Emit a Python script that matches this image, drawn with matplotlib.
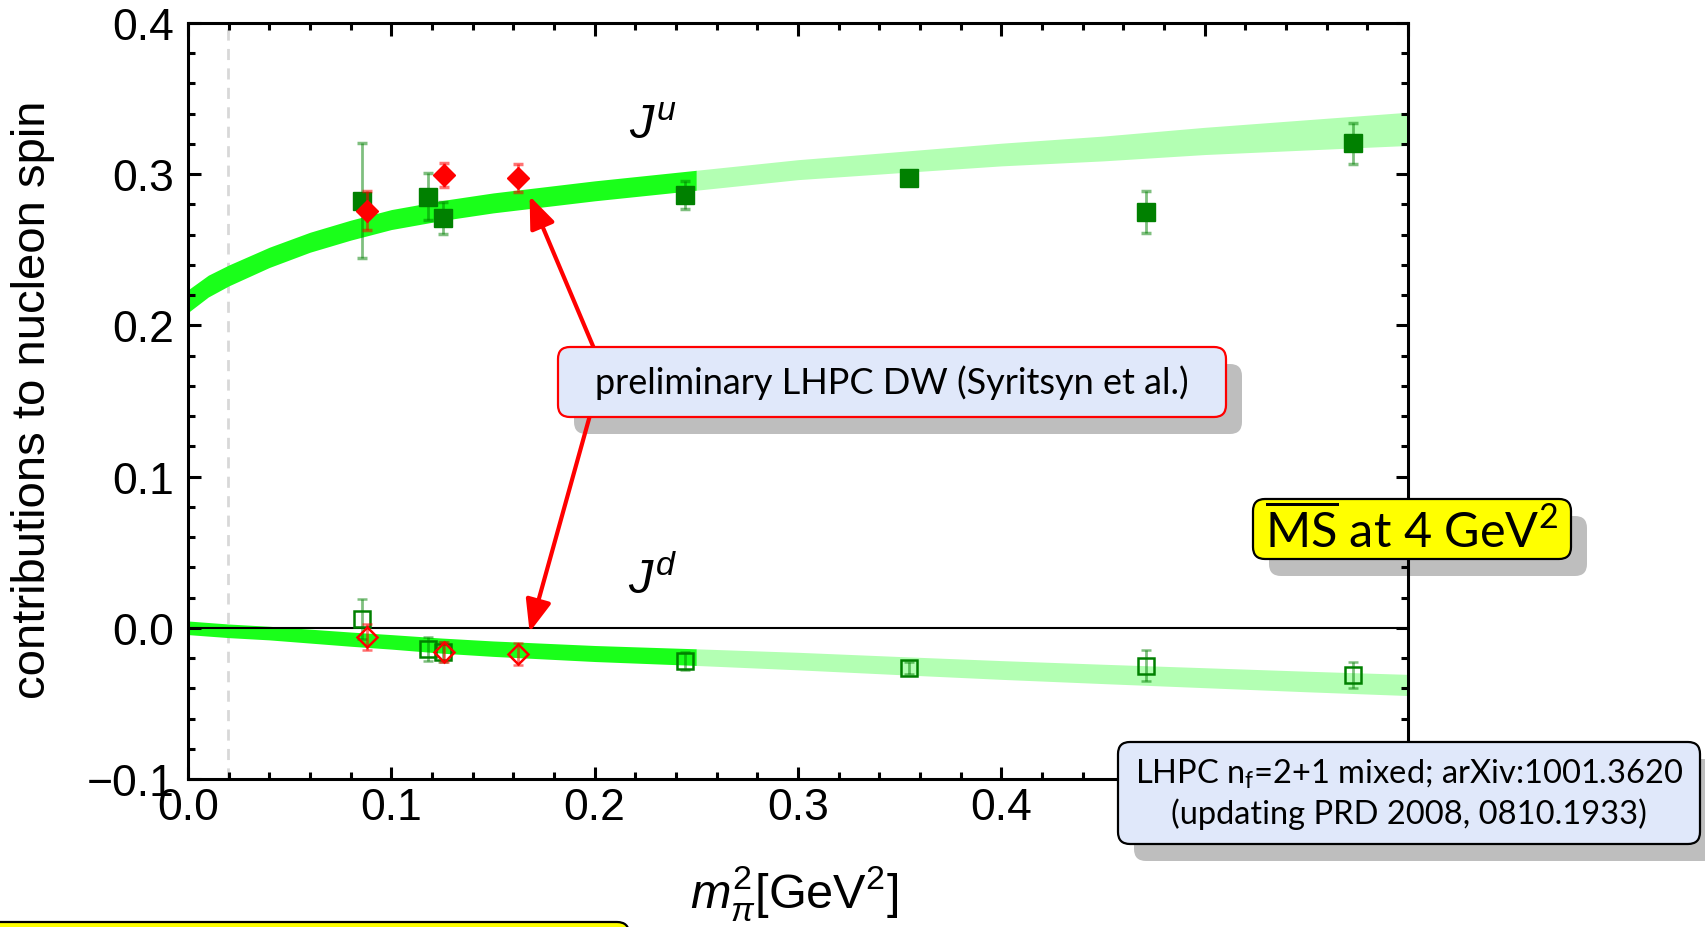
import matplotlib.pyplot as plt
import numpy as np
from matplotlib.patches import FancyBboxPatch
from matplotlib.ticker import MultipleLocator, FuncFormatter

plt.rcParams['font.family'] = ['Liberation Sans', 'DejaVu Sans']
plt.rcParams['mathtext.fontset'] = 'custom'
plt.rcParams['mathtext.rm'] = 'Liberation Sans'
plt.rcParams['mathtext.it'] = 'Liberation Sans:italic'
plt.rcParams['mathtext.sf'] = 'Lato'

# chiral fit bands: central value and half width vs m_pi^2
band_x  = [0.0, 0.01, 0.02, 0.04, 0.06, 0.08, 0.10, 0.125, 0.15, 0.20, 0.25,
           0.30, 0.35, 0.40, 0.45, 0.50, 0.55, 0.60]
ju_mid  = [0.216, 0.226, 0.233, 0.245, 0.255, 0.263, 0.270, 0.276, 0.281, 0.289, 0.296,
           0.303, 0.308, 0.313, 0.317, 0.322, 0.326, 0.330]
ju_half = [0.0075, 0.0072, 0.0069, 0.0067, 0.0066, 0.0066, 0.0066, 0.0066, 0.0066, 0.0066, 0.0066,
           0.0066, 0.0070, 0.0075, 0.0082, 0.0090, 0.0100, 0.0110]
jd_mid  = [0.000, -0.001, -0.002, -0.0035, -0.0055, -0.0075, -0.0093, -0.0118, -0.0138, -0.0170, -0.0194,
           -0.0220, -0.0250, -0.0279, -0.0305, -0.0330, -0.0355, -0.0378]
jd_half = [0.0045, 0.0045, 0.0045, 0.0045, 0.0046, 0.0047, 0.0048, 0.0050, 0.0051, 0.0053, 0.0055,
           0.0058, 0.0060, 0.0062, 0.0064, 0.0066, 0.0068, 0.0070]
fit_end = 0.25        # band is drawn lighter beyond the fit range
m_pi_phys = 0.0195    # physical pion mass squared

# LHPC n_f=2+1 mixed action (filled squares J^u, open squares J^d)
mixed_x      = [0.0854, 0.1182, 0.1256, 0.2445, 0.3545, 0.471, 0.573]
ju_mixed     = [0.2825, 0.2851, 0.2710, 0.2862, 0.2975, 0.2750, 0.3204]
ju_mixed_err = [0.038, 0.0155, 0.0105, 0.009, 0.004, 0.014, 0.0135]
jd_mixed     = [0.0058, -0.0140, -0.0162, -0.0217, -0.0266, -0.0250, -0.0312]
jd_mixed_err = [0.013, 0.008, 0.0066, 0.006, 0.004, 0.010, 0.0085]

# preliminary domain wall points (red)
dw_x      = [0.0879, 0.1261, 0.1625]
ju_dw     = [0.2759, 0.2995, 0.2975]
ju_dw_err = [0.0128, 0.008, 0.009]
jd_dw     = [-0.0063, -0.0158, -0.0173]
jd_dw_err = [0.0085, 0.0065, 0.007]

W, H = 1706, 928
fig = plt.figure(figsize=(W / 100, H / 100), dpi=100)
ax = fig.add_axes([188 / W, 1 - 780 / H, 1220 / W, 756 / H])

# bands
bx = np.array(band_x)
inner = bx <= fit_end
outer = bx >= fit_end
for mid, half in ((ju_mid, ju_half), (jd_mid, jd_half)):
    lo = np.array(mid) - np.array(half)
    hi = np.array(mid) + np.array(half)
    ax.fill_between(bx[inner], lo[inner], hi[inner], color='#1aff1a', lw=0, zorder=1)
    ax.fill_between(bx[outer], lo[outer], hi[outer], color='#b3ffb3', lw=0, zorder=1)

ax.axhline(0, color='black', lw=1.5, zorder=2)
ax.axvline(m_pi_phys, color='#d8d8d8', lw=2, ls=(0, (4, 3)), zorder=0.8)

green_err = (0, 0.5, 0, 0.5)
red_err = (1, 0, 0, 0.55)
ax.errorbar(mixed_x, ju_mixed, yerr=ju_mixed_err, fmt='s', color='#008000', ms=12.5,
            ecolor=green_err, elinewidth=2, capsize=3.6, capthick=2.5, zorder=4)
ax.errorbar(mixed_x, jd_mixed, yerr=jd_mixed_err, fmt='s', mfc='none', mec='#008000', mew=1.8,
            ms=12, ecolor=green_err, elinewidth=2, capsize=3.6, capthick=2.5, zorder=4)
ax.errorbar(dw_x, ju_dw, yerr=ju_dw_err, fmt='D', color='red', ms=11.5,
            ecolor=red_err, elinewidth=2, capsize=3.6, capthick=2.5, zorder=5)
ax.errorbar(dw_x, jd_dw, yerr=jd_dw_err, fmt='D', mfc='none', mec='red', mew=1.8, ms=10.5,
            ecolor=red_err, elinewidth=2, capsize=3.6, capthick=2.5, zorder=5)

# arrows from the "preliminary" label to the DW points
arrow_from = (0.204, 0.171)
for tip in [(0.168, 0.2856), (0.168, -0.0029)]:
    ax.annotate('', xy=tip, xytext=arrow_from, zorder=6,
                arrowprops=dict(arrowstyle='-|>,head_length=0.75,head_width=0.3', color='red',
                                lw=3, mutation_scale=26, shrinkA=0, shrinkB=0))

ax.text(0.2287, 0.3325, r'$J^{u}$', fontsize=35, ha='center', va='center')
ax.text(0.2287, 0.0316, r'$J^{d}$', fontsize=35, ha='center', va='center')

ax.set_xlim(0, 0.6)
ax.set_ylim(-0.1, 0.4)
ax.xaxis.set_major_locator(MultipleLocator(0.1))
ax.xaxis.set_minor_locator(MultipleLocator(0.02))
ax.yaxis.set_major_locator(MultipleLocator(0.1))
ax.yaxis.set_minor_locator(MultipleLocator(0.02))
fmt = FuncFormatter(lambda v, p: ('%.1f' % v).replace('-', '\u2212'))
# 0.5 and 0.6 end up under the reference box, leave them blank
xfmt = FuncFormatter(lambda v, p: '%.1f' % v if v < 0.45 else '')
ax.xaxis.set_major_formatter(xfmt)
ax.yaxis.set_major_formatter(fmt)
ax.tick_params(which='both', direction='in', top=True, right=True, width=2.2, labelsize=32)
ax.tick_params(which='major', length=9)
ax.tick_params(which='minor', length=5)
ax.tick_params(axis='y', pad=10)
ax.tick_params(axis='x', pad=6)
for sp in ax.spines.values():
    sp.set_linewidth(2.2)

fig.text(33 / W, 1 - 400 / H, 'contributions to nucleon spin', rotation=90,
         ha='center', va='center', fontsize=34)
fig.text(794 / W, 1 - 894 / H, r'$m_{\pi}^{2}$[GeV$^{2}$]', ha='center', va='center', fontsize=35)


def boxed_text(x0, y0, x1, y1, text, face, edge, size, shadow=True):
    # box corners in pixels, measured from the top-left of the canvas
    def patch(dx, dy, **kw):
        return FancyBboxPatch(((x0 + dx) / 100, (H - y1 - dy) / 100), (x1 - x0) / 100, (y1 - y0) / 100,
                              boxstyle='round,pad=0,rounding_size=0.12',
                              transform=fig.dpi_scale_trans, **kw)
    if shadow:
        ax.add_patch(patch(16, 17, fc='#bebebe', ec='none', clip_on=False, zorder=0.5))
    fig.add_artist(patch(0, 0, fc=face, ec=edge, lw=1.6, zorder=1))
    if text:
        fig.text((x0 + x1) / 2 / W, 1 - (y0 + y1) / 2 / H, text, ha='center', va='center',
                 fontsize=size, family='Lato', linespacing=1.3, zorder=4)


boxed_text(558, 348, 1226, 418, 'preliminary LHPC DW (Syritsyn et al.)', '#e0e8fa', 'red', 26)
boxed_text(1253, 500, 1571, 560, r'$\overline{\mathsf{MS}}$ at 4 GeV$^{\mathsf{2}}$', '#ffff00', 'black', 35)
boxed_text(1118, 743, 1700, 845,
           'LHPC n$_{\\mathsf{f}}$=2+1 mixed; arXiv:1001.3620\n(updating PRD 2008, 0810.1933)',
           '#e0e8fa', 'black', 23.5)
boxed_text(-20, 923, 629, 1000, '', '#ffff00', 'black', 10, shadow=False)

plt.savefig('out.png', dpi=100)
